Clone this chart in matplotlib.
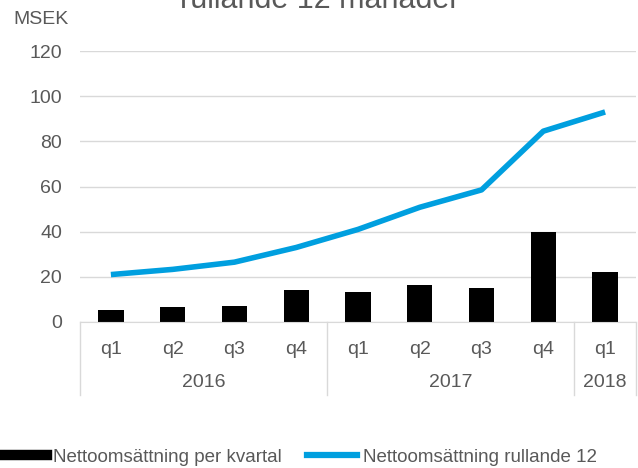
import matplotlib.pyplot as plt
from matplotlib.lines import Line2D
from matplotlib.transforms import blended_transform_factory

plt.rcParams['font.family'] = ['Liberation Sans', 'DejaVu Sans']

quarters = ['q1', 'q2', 'q3', 'q4', 'q1', 'q2', 'q3', 'q4', 'q1']
years = ['2016', '2017', '2018']
year_spans = [(0, 4), (4, 8), (8, 9)]
per_kvartal = [5.3, 6.6, 7.0, 14.0, 13.3, 16.4, 15.0, 39.8, 22.3]
rullande_12 = [21.0, 23.3, 26.5, 33.0, 41.0, 50.8, 58.5, 84.5, 93.0]

grey = '#595959'
blue = '#009FDF'

fig = plt.figure(figsize=(6.38, 4.68), dpi=100)
ax = fig.add_axes([80 / 638, 1 - 322 / 468, 556 / 638, 271 / 468])

x = list(range(len(quarters)))
ax.bar(x, per_kvartal, width=0.41, color='black', zorder=2)
ax.plot(x, rullande_12, color=blue, linewidth=4, zorder=3,
        solid_capstyle='butt')

ax.set_xlim(-0.5, len(quarters) - 0.5)
ax.set_ylim(0, 120)
ax.set_yticks(range(0, 121, 20))
ax.tick_params(axis='y', length=0, labelsize=14, labelcolor=grey, pad=13)
ax.set_xticks([])
ax.grid(axis='y', color='#d9d9d9', linewidth=1, zorder=0)
for s in ['left', 'right', 'top']:
    ax.spines[s].set_visible(False)
ax.spines['bottom'].set_color('#d9d9d9')

# two-level category axis
tr = blended_transform_factory(ax.transData, ax.transAxes)
for i, q in enumerate(quarters):
    ax.text(i, -0.10, q, transform=tr, ha='center', va='center',
            fontsize=14, color=grey)
for name, (a, b) in zip(years, year_spans):
    ax.text((a + b - 1) / 2, -0.225, name, transform=tr, ha='center',
            va='center', fontsize=14, color=grey)
for xb in [-0.5, 3.5, 7.5, 8.5]:
    ax.plot([xb, xb], [0, -0.27], transform=tr, color='#d9d9d9',
            linewidth=1, clip_on=False)

fig.text(13 / 638, 1 - 20 / 468, 'MSEK', fontsize=14, color=grey,
         ha='left', va='center')
fig.text(320 / 638, 1 - 8 / 468, 'rullande 12 månader', fontsize=22,
         color=grey, ha='center', va='baseline')

handles = [Line2D([0], [0], color='black', linewidth=7.5),
           Line2D([0], [0], color=blue, linewidth=4.5)]
fig.legend(handles, ['Nettoomsättning per kvartal', 'Nettoomsättning rullande 12'],
           loc='center', bbox_to_anchor=(297 / 638, 1 - 457 / 468), ncol=2,
           frameon=False, fontsize=13.5, labelcolor=grey, handlelength=2.7,
           handletextpad=0.32, columnspacing=1.33)

fig.savefig('out.png', dpi=100)
